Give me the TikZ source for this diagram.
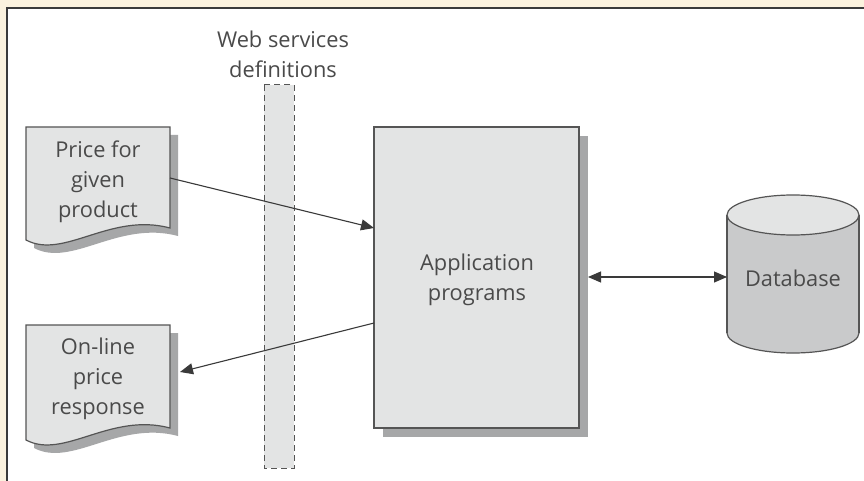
\documentclass[tikz,border=0pt]{standalone}
\usepackage{fontspec}
\setmainfont{Open Sans}
\usetikzlibrary{arrows.meta}
\definecolor{cream}{HTML}{FBF2DE}
\definecolor{boxfill}{HTML}{E3E4E4}
\definecolor{shadowc}{HTML}{A6A7A8}
\definecolor{edgec}{HTML}{555555}
\definecolor{txt}{HTML}{4A4A4A}
\definecolor{cylfill}{HTML}{C9CACB}
\definecolor{framec}{HTML}{3A3A3A}
\tikzset{
  lbl/.style={text=txt, align=center, font=\fontsize{21.8}{30}\selectfont, inner sep=0pt},
  conn/.style={draw=framec, line width=1.1pt, -{Triangle[length=13pt,width=11pt]}},
  dconn/.style={draw=framec, line width=1.1pt, {Triangle[length=13pt,width=11pt]}-{Triangle[length=13pt,width=11pt]}},
  outline/.style={draw=edgec, line width=1.2pt},
  shadowfill/.style={fill=shadowc, draw=none},
}
\begin{document}
\begin{tikzpicture}[x=1pt,y=-1pt]
\useasboundingbox (0,0) rectangle (864,481);
% background frame
\fill[cream] (0,0) rectangle (864,481);
\fill[white] (7,8) rectangle (864,481);
\draw[framec, line width=1.5pt] (7,481) -- (7,8) -- (864,8);

% Web services definitions bar
\draw[edgec, fill=boxfill, line width=1pt, dash pattern=on 6pt off 4pt] (264,85) rectangle (294,468);
\node[lbl] (ws) at (283,54) {Web services\\definitions};

% Document 1 (shadow + shape)
\fill[shadowc] (34,135) -- (178,135) -- (178,236) .. controls (118,220) and (72,268) .. (34,248) -- cycle;
\filldraw[outline, fill=boxfill] (26,127) -- (170,127) -- (170,228) .. controls (110,212) and (64,260) .. (26,240) -- cycle;
\node[lbl] (doc1) at (98,182) {Price for\\given\\product};
\coordinate (d1out) at (170,178);

% Document 2
\fill[shadowc] (34,333) -- (178,333) -- (178,436) .. controls (118,420) and (72,468) .. (34,448) -- cycle;
\filldraw[outline, fill=boxfill] (26,325) -- (170,325) -- (170,428) .. controls (110,412) and (64,460) .. (26,440) -- cycle;
\node[lbl] (doc2) at (98,379) {On-line\\price\\response};
\coordinate (d2in) at (180,372);

% Application programs
\fill[shadowc] (383,136) rectangle (588,437);
\node[outline, fill=boxfill, minimum width=205pt, minimum height=301pt, inner sep=0pt] (app) at (476.5,277.5) {};
\node[lbl] (apptxt) at (477,280) {Application\\programs};
\coordinate (appin) at (374,228);
\coordinate (appout) at (374,323);
\coordinate (appdb) at (588,277);

% Database cylinder
\fill[cylfill, draw=edgec, line width=1.2pt] (793,333) ellipse [x radius=66, y radius=20];
\fill[cylfill] (727,215) rectangle (859,333);
\draw[edgec, line width=1.2pt] (727,215) -- (727,333) (859,215) -- (859,333);
\filldraw[outline, fill=boxfill] (793,215) ellipse [x radius=66, y radius=20];
\node[lbl] (db) at (793,278) {Database};
\coordinate (dbin) at (727,277);

% connectors
\draw[conn] (d1out) -- (appin);
\draw[conn] (appout) -- (d2in);
\draw[dconn] (appdb) -- (dbin);
\end{tikzpicture}
\end{document}
